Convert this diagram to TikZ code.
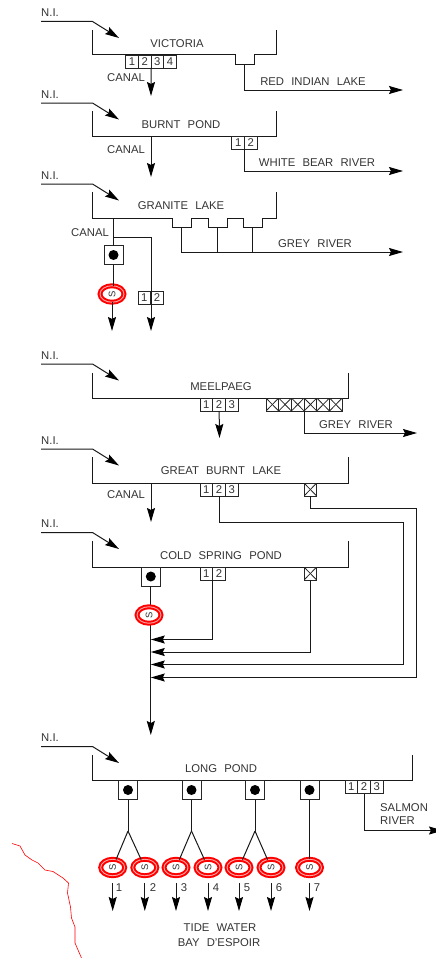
\documentclass[tikz,border=0pt]{standalone}
\usepackage{fontspec}
\setmainfont[WordSpace=2.3]{Liberation Sans}
\usetikzlibrary{arrows.meta,positioning,calc,shapes.geometric}

\begin{document}
\begin{tikzpicture}[
   x=1pt, y=-1pt,
   lbl/.style={font=\fontsize{11.3}{12.5}\selectfont, text=black!80, inner sep=0pt, align=left, yshift=-0.7pt},
   cell/.style={draw=black!85, line width=0.9pt, minimum width=12.7pt, minimum height=13pt,
                inner sep=0pt, outer sep=0pt, text=black!80, font=\fontsize{11.3}{12}\selectfont},
   xcell/.style={cell, path picture={
                 \draw[black!85, line width=0.8pt] (path picture bounding box.north west) -- (path picture bounding box.south east);
                 \draw[black!85, line width=0.8pt] (path picture bounding box.north east) -- (path picture bounding box.south west);}},
   valve/.style={draw=black!85, line width=0.9pt, minimum size=19pt, inner sep=0pt, outer sep=0pt,
                 path picture={\fill[black] (path picture bounding box.center) circle (5pt);}},
   turbine/.style={ellipse, draw=red, fill=white, line width=2pt, double=red!35, double distance=0.9pt,
                   minimum width=24pt, minimum height=16.5pt, inner sep=0pt, outer sep=0pt,
                   text=black!80, font=\fontsize{9.5}{10}\selectfont},
   basin/.style={draw=black!90, line width=1pt},
   line/.style={draw=black!90, line width=1pt},
   flow/.style={line, -{Stealth[length=14pt,width=8pt,inset=2pt,black]}},
   feed/.style={line, -{Stealth[length=14pt,width=8pt,inset=2pt,black]}},
   node distance=0pt]
\useasboundingbox (0,0) rectangle (436,958);

\foreach \b/\y in {vic/21.5,burnt/103,gran/184,meel/364,gbl/449,cold/532.5,long/746.5} {
  \node[lbl, anchor=west] (ni\b) at (41,\y-9.5) {N.I.};
  \coordinate (nis\b) at (41,\y);
  \coordinate (nik\b) at (92.5,\y);
  \coordinate (nit\b) at (119,\y+16.5);
  \draw[feed] (nis\b) -- (nik\b) -- (nit\b);
}

\draw[basin] (92.5,30) |- (235,55) -- (235,65) -| (254,55) -- (276,55) -- (276,30);
\node[lbl] (victoria) at (177,43) {VICTORIA};
\coordinate (vicnotch) at (244.5,65);
\node[cell, anchor=north west] (vic1) at (125.6,55) {1};
\foreach \i/\p in {2/1,3/2,4/3}
  \node[cell, right=of vic\p] (vic\i) {\i};
\coordinate (vicend) at (151,96);
\coordinate (redend) at (403,90);
\draw[flow] (vic2.south east) -- (vicend);
\draw[flow] (vicnotch) |- (redend);
\node[lbl] (canala) at (126,77) {CANAL};
\node[lbl] (redlake) at (313,81) {RED INDIAN LAKE};

\draw[basin] (92.5,111) |- (276,136) -- (276,111);
\node[lbl] (burnt) at (181,124) {BURNT POND};
\coordinate (burntout) at (151,136);
\coordinate (burntend) at (151,177);
\draw[flow] (burntout) -- (burntend);
\node[lbl] (canalb) at (126,148.5) {CANAL};
\node[cell, anchor=north west] (bur1) at (231.8,136) {1};
\node[cell, right=of bur1] (bur2) {2};
\coordinate (whiteend) at (403,171);
\draw[flow] (bur1.south east) |- (whiteend);
\node[lbl] (whiteriver) at (317,162) {WHITE BEAR RIVER};

\draw[basin] (92.5,192) |- (172,218) -- (172,227) -| (191,218) -| (208,227) -| (227,218) -| (243,227) -| (262,218) -| (276,192);
\node[lbl] (granite) at (181,205) {GRANITE LAKE};
\coordinate (grana) at (181,227);
\coordinate (granb) at (217,227);
\coordinate (granc) at (252,227);
\coordinate (granjoin) at (181,252);
\coordinate (greyend) at (403,252);
\draw[line] (grana) -- (granjoin);
\draw[line] (granb) -- (granb |- granjoin);
\draw[line] (granc) -- (granc |- granjoin);
\draw[flow] (granjoin) -- (greyend);
\node[lbl] (greya) at (315,243) {GREY RIVER};
\node[lbl] (canalc) at (90,232) {CANAL};
\coordinate (granout) at (113.5,218);
\coordinate (granbr) at (113.5,237);
\node[valve] (granv) at (113.5,255) {};
\node[turbine] (grans) at (112,294) {\rotatebox{90}{S}};
\coordinate (gransend) at (112,331);
\coordinate (grancend) at (151,331);
\node[cell, anchor=north west] (grc1) at (138,291) {1};
\node[cell, right=of grc1] (grc2) {2};
\draw[line] (granout) -- (granv);
\draw[line] (granv) -- (granv |- grans.north);
\draw[flow] (grans) -- (gransend);
\draw[flow] (granbr) -| (grancend);

\draw[basin] (92.5,373) |- (348,398) -- (348,373);
\node[lbl] (meelpaeg) at (221,386) {MEELPAEG};
\node[cell, anchor=north west] (mee1) at (200,398) {1};
\foreach \i/\p in {2/1,3/2}
  \node[cell, right=of mee\p] (mee\i) {\i};
\coordinate (meeend) at (219.5,438);
\draw[flow] (mee2) -- (meeend);
\node[xcell, anchor=north west] (mex1) at (266,398) {};
\foreach \i/\p in {2/1,3/2,4/3,5/4,6/5}
  \node[xcell, right=of mex\p] (mex\i) {};
\coordinate (mexend) at (417,433);
\draw[flow] (mex3.south east) |- (mexend);
\node[lbl] (greyb) at (356,424) {GREY RIVER};

\draw[basin] (92.5,457) |- (348,483) -- (348,457);
\node[lbl] (gbl) at (221,470) {GREAT BURNT LAKE};
\coordinate (gblout) at (151,483);
\coordinate (gblend) at (151,522);
\draw[flow] (gblout) -- (gblend);
\node[lbl] (canald) at (126,494) {CANAL};
\node[cell, anchor=north west] (gbl1) at (200,483) {1};
\foreach \i/\p in {2/1,3/2}
  \node[cell, right=of gbl\p] (gbl\i) {\i};
\node[xcell, anchor=north west] (gblx) at (304,483) {};

\draw[basin] (92.5,541) |- (348,567) -- (348,541);
\node[lbl] (cold) at (221,555) {COLD SPRING POND};
\node[valve] (coldv) at (150.8,576.5) {};
\node[cell, anchor=north west] (col1) at (200,567) {1};
\node[cell, right=of col1] (col2) {2};
\node[xcell, anchor=north west] (colx) at (304,567) {};
\coordinate (coldend) at (150.8,735);
\coordinate (tap1) at (150.8,639.5);
\coordinate (tap2) at (150.8,652);
\coordinate (tap3) at (150.8,664.5);
\coordinate (tap4) at (150.8,677.5);
\coordinate (gblbendr) at (403.5,522);
\coordinate (gblbendx) at (416.5,508);
\draw[flow] (coldv) -- (coldend);
\node[turbine] (colds) at (149,615) {\rotatebox{90}{S}};
\draw[flow] (col1.south east) |- (tap1);
\draw[flow] (colx) |- (tap2);
\draw[flow] (gbl2) |- (gblbendr) |- (tap3);
\draw[flow] (gblx) |- (gblbendx) |- (tap4);

\draw[basin] (92.5,755) |- (412.5,780.5) -- (412.5,755);
\node[lbl] (long) at (221,768) {LONG POND};
\foreach \n/\x in {a/128,b/191.5,c/255,d/309.5}
  \node[valve] (lv\n) at (\x,790) {};
\foreach \n/\x in {a/128,b/191.5,c/255}
  \coordinate (fork\n) at (\x,831);
\foreach \i/\x/\m in {1/112.7/119,2/144.8/153,3/176/184,4/208/216,5/239/247,6/271/279,7/309.5/317} {
  \node[turbine] (ls\i) at (\x,867.5) {\rotatebox{90}{S}};
  \coordinate (lt\i) at (\x,883);
  \coordinate (le\i) at (\x,911);
  \draw[flow] (lt\i) -- (le\i);
  \node[lbl] (num\i) at (\m,887) {\i};
}
\foreach \n/\p/\q in {a/1/2,b/3/4,c/5/6} {
  \draw[line] (lv\n) -- (fork\n);
  \draw[line] (fork\n) -- (ls\p);
  \draw[line] (fork\n) -- (ls\q);
}
\draw[line] (lvd) -- (ls7);
\node[cell, anchor=north west] (lon1) at (345,780.5) {1};
\foreach \i/\p in {2/1,3/2}
  \node[cell, right=of lon\p] (lon\i) {\i};
\coordinate (salend) at (443,830.5);
\draw[flow] (lon2) |- (salend);
\node[lbl, anchor=north west] (salmon) at (380,803) {SALMON\\RIVER};
\node[lbl] (tide) at (220,927) {TIDE WATER};
\node[lbl] (bay) at (219,942) {BAY D'ESPOIR};

\draw[red, line width=0.6pt] (12,843.5) -- (20,846) -- (25,855) -- (32,860) -- (38,863) -- (45,870) -- (53,871.5)
  -- (63,878) -- (68.5,883) -- (67.5,893) -- (70.5,907) -- (71.5,918) -- (75,927) -- (75,943) -- (81.5,958);
\end{tikzpicture}
\end{document}
